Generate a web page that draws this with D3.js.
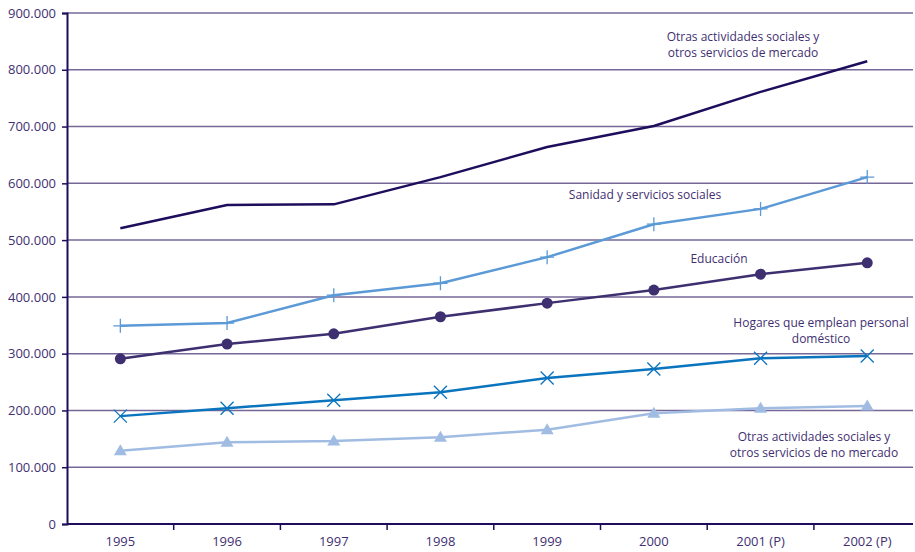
<!DOCTYPE html>
<html><head><meta charset="utf-8">
<script src="https://cdn.jsdelivr.net/npm/d3@7"></script>
<style>body{margin:0;background:#fff}svg{display:block}text{font-family:"Open Sans","DejaVu Sans",sans-serif}</style>
</head><body>
<svg id="c" width="915" height="552"></svg>
<script>
const categories = ["1995","1996","1997","1998","1999","2000","2001 (P)","2002 (P)"];
const yTicks = [0,100000,200000,300000,400000,500000,600000,700000,800000,900000];
const mercado   = [521000,562000,563000,611000,664000,701000,761000,815000];
const sanidad   = [349000,354000,403000,424000,470000,528000,555000,611000];
const educacion = [291000,317000,335000,365000,389000,412000,440000,460000];
const hogares   = [190000,204000,218000,232000,257000,273000,292000,296000];
const noMercado = [129000,144000,146000,153000,166000,195000,204000,208000];
const seriesNames = ["Otras actividades sociales y|otros servicios de mercado","Sanidad y servicios sociales","Educación","Hogares que emplean personal|doméstico","Otras actividades sociales y|otros servicios de no mercado"];

const svg = d3.select("#c");
const L=67,R=913,T=13,B=524;
const x = d3.scaleBand().domain(categories).range([L,L+8*106.7]);
const y = d3.scaleLinear().domain([0,900000]).range([B,T]);
const fmt = d => d===0 ? "0" : d3.format(",")(d).replace(/,/g,".");

// gridlines
svg.append("g").selectAll("line").data(yTicks.filter(d=>d>0)).join("line")
  .attr("x1",L).attr("x2",R).attr("y1",d=>y(d)).attr("y2",d=>y(d))
  .attr("stroke","#756898").attr("stroke-width",1.5);

// y axis
const ya = svg.append("g").attr("transform",`translate(${L},0)`)
  .call(d3.axisLeft(y).tickValues(yTicks).tickFormat(fmt).tickSize(5).tickPadding(6));
ya.select(".domain").attr("stroke","#1e0d5c").attr("stroke-width",2);
ya.selectAll(".tick line").attr("stroke","#1e0d5c").attr("stroke-width",1.5);
ya.selectAll("text").attr("fill","#3f2f72").attr("font-size",13);

// x axis
const xa = svg.append("g").attr("transform",`translate(0,${B})`)
  .call(d3.axisBottom(x).tickSize(0).tickPadding(13));
xa.select(".domain").remove();
svg.append("line").attr("x1",L).attr("x2",R).attr("y1",B).attr("y2",B).attr("stroke","#1e0d5c").attr("stroke-width",2);
xa.selectAll("text").attr("fill","#3f2f72").attr("font-size",13);
svg.append("g").selectAll("line").data(categories.slice(1)).join("line")
  .attr("x1",d=>x(d)).attr("x2",d=>x(d)).attr("y1",B).attr("y2",B+6)
  .attr("stroke","#1e0d5c").attr("stroke-width",1.5);

const cx = d => x(d)+x.bandwidth()/2;
const line = d3.line().x((d,i)=>cx(categories[i])).y(d=>y(d));

function drawLine(data,color,w){
  svg.append("path").datum(data).attr("d",line).attr("fill","none")
    .attr("stroke",color).attr("stroke-width",w).attr("stroke-linejoin","round");
}
drawLine(mercado,"#1e0d5c",2.5);
drawLine(sanidad,"#5b9ad6",2.5);
drawLine(educacion,"#3d2f70",2.5);
drawLine(hogares,"#0a74be",2.5);
drawLine(noMercado,"#a1bce3",2.5);

// markers
const g = svg.append("g");
sanidad.forEach((v,i)=>{
  const px=cx(categories[i]),py=y(v);
  g.append("path").attr("d",`M${px-7},${py}H${px+7}M${px},${py-7}V${py+7}`).attr("stroke","#5b9ad6").attr("stroke-width",1.3);
});
educacion.forEach((v,i)=>{
  g.append("circle").attr("cx",cx(categories[i])).attr("cy",y(v)).attr("r",5.5).attr("fill","#3d2f70");
});
hogares.forEach((v,i)=>{
  const px=cx(categories[i]),py=y(v);
  g.append("path").attr("d",`M${px-6.5},${py-6.5}L${px+6.5},${py+6.5}M${px-6.5},${py+6.5}L${px+6.5},${py-6.5}`).attr("stroke","#0a74be").attr("stroke-width",1.3);
});
noMercado.forEach((v,i)=>{
  const px=cx(categories[i]),py=y(v);
  g.append("path").attr("d",`M${px},${py-6.5}L${px+6.5},${py+4.5}L${px-6.5},${py+4.5}Z`).attr("fill","#a1bce3");
});

// labels
const labelPos = [[743,37],[645,195],[719,259],[821,323],[814,437]];
seriesNames.forEach((n,i)=>{
  const t = svg.append("text").attr("text-anchor","middle").attr("fill","#3f2f72").attr("font-size",12);
  n.split("|").forEach((s,j)=>{
    t.append("tspan").attr("x",labelPos[i][0]).attr("y",labelPos[i][1]+j*16+4).text(s);
  });
});
</script>
</body></html>
